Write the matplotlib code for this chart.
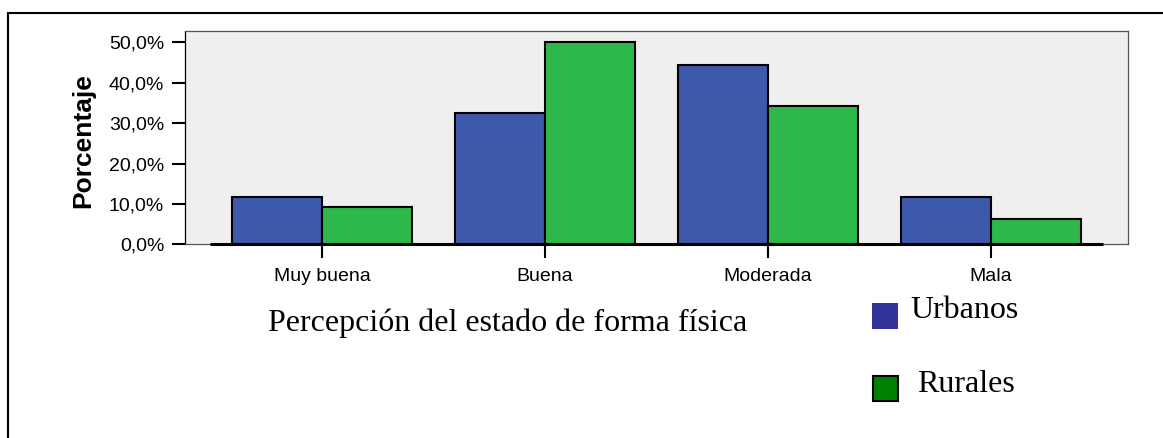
import matplotlib
matplotlib.use("Agg")
import matplotlib.pyplot as plt
import numpy as np
from matplotlib.patches import Rectangle
from matplotlib.ticker import FuncFormatter

# data
categories = ["Muy buena", "Buena", "Moderada", "Mala"]
urbanos = [11.8, 32.4, 44.3, 11.8]
rurales = [9.2, 50.0, 34.3, 6.2]
series_names = ["Urbanos", "Rurales"]
yticks = [0, 10, 20, 30, 40, 50]

W, H = 1163, 438
dpi = 100
fig = plt.figure(figsize=(W / dpi, H / dpi), dpi=dpi)
fig.patch.set_facecolor("white")


def px(x, y):
    # pixel position (from top-left) -> figure fraction
    return x / W, 1 - y / H


# outer frame, clipped by the figure edge
x0, y0 = px(8, 13)
fig.add_artist(Rectangle((x0, -0.2), 1.2, y0 + 0.2, transform=fig.transFigure,
                         fill=False, edgecolor="black", linewidth=1.5))

ax = fig.add_axes([185 / W, 1 - 244.3 / H, (1128 - 185) / W, (244.3 - 31) / H])
ax.set_facecolor("#efefef")
for s in ax.spines.values():
    s.set_color("#555555")
    s.set_linewidth(0.9)
ax.spines["left"].set_color("black")

blue = "#3e58ab"
green = "#2fb84a"
x = np.arange(len(categories))
bw = 0.405
ax.bar(x - bw / 2, urbanos, bw, color=blue, edgecolor="black", linewidth=1.5, zorder=2)
ax.bar(x + bw / 2, rurales, bw, color=green, edgecolor="black", linewidth=1.5, zorder=2)
ax.plot([-0.5, len(categories) - 0.5], [0, 0], color="black", linewidth=2.2,
        solid_capstyle="butt", zorder=3, clip_on=False)

ax.set_xlim(-0.614, len(categories) - 1 + 0.614)
ax.set_ylim(0, 52.8)
ax.set_xticks(x)
ax.set_xticklabels(categories, family=["Liberation Sans Narrow", "Liberation Sans"], fontsize=14)
ax.set_yticks(yticks)
ax.yaxis.set_major_formatter(FuncFormatter(lambda v, p: f"{v:.1f}%".replace(".", ",")))
for t in ax.get_yticklabels():
    t.set_family("Liberation Sans")
    t.set_fontsize(14)
ax.tick_params(axis="y", direction="out", length=9.5, width=1.5, pad=5.5, colors="black")
ax.tick_params(axis="x", direction="out", length=10, width=1.5, pad=7, colors="black")

# axis titles
fig.text(*px(83, 141), "Porcentaje", rotation=90, ha="center", va="center",
         family="Liberation Sans", fontweight="bold", fontsize=19)
fig.text(*px(268, 331), "Percepción del estado de forma física", ha="left", va="baseline",
         family="Liberation Serif", fontsize=23)

# legend drawn by hand
lx, ly = px(872, 329)
fig.add_artist(Rectangle((lx, ly), 26 / W, 26 / H, transform=fig.transFigure,
                         facecolor="#333399", edgecolor="none"))
lx, ly = px(873, 401)
fig.add_artist(Rectangle((lx, ly), 25 / W, 25 / H, transform=fig.transFigure,
                         facecolor="#008000", edgecolor="black", linewidth=1.5))
fig.text(*px(910, 318), series_names[0], ha="left", va="baseline",
         family="Liberation Serif", fontsize=23)
fig.text(*px(917, 392), series_names[1], ha="left", va="baseline",
         family="Liberation Serif", fontsize=23)

fig.savefig("out.png", dpi=dpi)
